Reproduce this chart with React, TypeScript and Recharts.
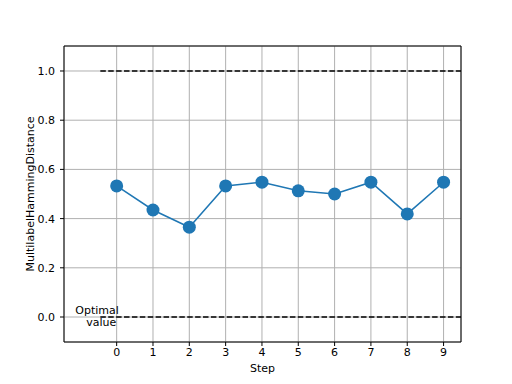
import React from "react";
import {
  LineChart,
  Line,
  XAxis,
  YAxis,
  CartesianGrid,
  ReferenceLine,
  ReferenceArea,
  ReferenceDot,
  Label,
} from "recharts";

const steps = [0, 1, 2, 3, 4, 5, 6, 7, 8, 9];
const distances = [0.533, 0.435, 0.365, 0.533, 0.548, 0.513, 0.5, 0.548, 0.419, 0.548];
const optimalValues = [1.0, 0.0];
const xTicks = [0, 1, 2, 3, 4, 5, 6, 7, 8, 9];
const yTicks = [0.0, 0.2, 0.4, 0.6, 0.8, 1.0];

const X_DOMAIN: [number, number] = [-1.45, 9.48];
const Y_DOMAIN: [number, number] = [-0.1016, 1.1016];
const FONT = "DejaVu Sans, sans-serif";

const data = steps.map((step, i) => ({ step, distance: distances[i] }));

export default function App() {
  return (
    <div style={{ position: "absolute", left: 0, top: 0, background: "#fff" }}>
      <LineChart
        width={512}
        height={384}
        data={data}
        margin={{ top: 46, right: 51, bottom: 0, left: 0 }}
      >
        <CartesianGrid stroke="#b0b0b0" strokeWidth={1} />
        <XAxis
          dataKey="step"
          type="number"
          domain={X_DOMAIN}
          ticks={xTicks}
          allowDataOverflow
          height={42}
          tickSize={4}
          tickMargin={2}
          axisLine={false}
          tickLine={{ stroke: "#000" }}
          tick={{ fill: "#000", fontSize: 11, fontFamily: FONT }}
        >
          <Label
            content={({ viewBox }: any) => (
              <text
                x={viewBox.x + viewBox.width / 2}
                y={372}
                textAnchor="middle"
                fontSize={11}
                fontFamily={FONT}
                fill="#000"
              >
                Step
              </text>
            )}
          />
        </XAxis>
        <YAxis
          type="number"
          domain={Y_DOMAIN}
          ticks={yTicks}
          allowDataOverflow
          width={64}
          tickSize={4}
          tickMargin={5}
          axisLine={false}
          tickLine={{ stroke: "#000" }}
          tickFormatter={(v: number) => v.toFixed(1)}
          tick={{ fill: "#000", fontSize: 11, fontFamily: FONT }}
        >
          <Label
            content={({ viewBox }: any) => (
              <text
                x={34}
                y={viewBox.y + viewBox.height / 2}
                transform={`rotate(-90, 34, ${viewBox.y + viewBox.height / 2})`}
                textAnchor="middle"
                fontSize={11}
                fontFamily={FONT}
                fill="#000"
              >
                MultilabelHammingDistance
              </text>
            )}
          />
        </YAxis>
        {optimalValues.map((v) => (
          <ReferenceLine
            key={v}
            segment={[
              { x: -0.45, y: v },
              { x: X_DOMAIN[1], y: v },
            ]}
            stroke="#000"
            strokeWidth={1.5}
            strokeDasharray="5.5 2.4"
          />
        ))}
        <ReferenceDot
          x={-0.5}
          y={0}
          r={0}
          shape={(p: any) => (
            <g fontSize={11} fontFamily={FONT} fill="#000">
              <text x={p.cx - 1.5} y={p.cy - 3} textAnchor="middle">
                Optimal
              </text>
              <text x={p.cx + 2.7} y={p.cy + 9} textAnchor="middle">
                value
              </text>
            </g>
          )}
        />
        <Line
          type="linear"
          dataKey="distance"
          stroke="#1f77b4"
          strokeWidth={1.5}
          dot={{ r: 6.5, fill: "#1f77b4", stroke: "#1f77b4", strokeWidth: 0 }}
          activeDot={false}
          isAnimationActive={false}
        />
        <ReferenceArea
          x1={X_DOMAIN[0]}
          x2={X_DOMAIN[1]}
          y1={Y_DOMAIN[0]}
          y2={Y_DOMAIN[1]}
          fill="none"
          stroke="#000"
          strokeWidth={1}
          ifOverflow="visible"
        />
      </LineChart>
    </div>
  );
}
